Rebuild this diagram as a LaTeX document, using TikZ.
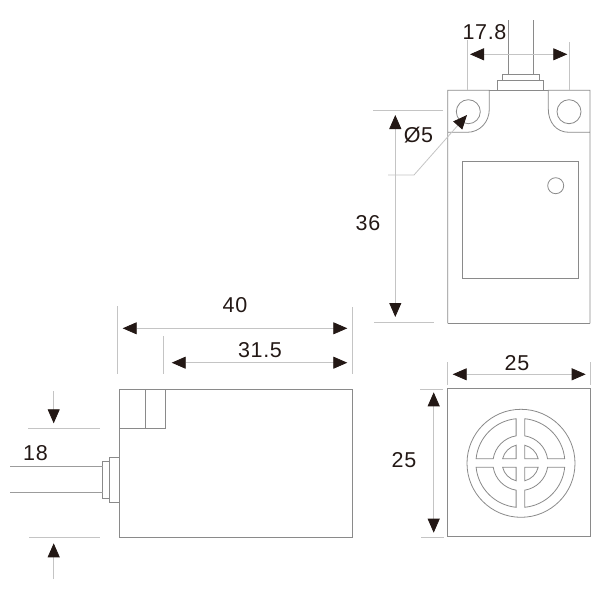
\documentclass[tikz,border=0pt]{standalone}
\usepackage{fontspec}
\setmainfont{Liberation Sans}
\usetikzlibrary{arrows.meta}
\definecolor{tipc}{HTML}{231815}
\definecolor{outl}{HTML}{8A8A8A}
\definecolor{dimc}{HTML}{C4C4C4}
\tikzset{
  part/.style={draw=outl,line width=0.8pt,line join=miter},
  cablepart/.style={draw=outl!85,line width=1pt},
  extline/.style={draw=dimc,line width=0.7pt},
  dimline/.style={draw=dimc,line width=0.8pt,
    {Triangle[length=14pt,width=12pt,color=tipc]}-{Triangle[length=14pt,width=12pt,color=tipc]}},
  onetip/.style={draw=dimc,line width=0.8pt,
    -{Triangle[length=14pt,width=12pt,color=tipc]}},
  lbl/.style={text=tipc,inner sep=0pt,font=\fontsize{21.5}{22}\selectfont\addfontfeature{LetterSpace=3}}
}
\begin{document}
\begin{tikzpicture}[x=1pt,y=-1pt]
\useasboundingbox (0,0) rectangle (600,600);
% ---- top view
\draw[part] (447.7,323.3) -- (447.7,90.3) -- (489.3,90.3) -- (489.3,109)
  .. controls (489.3,122) and (480,132.3) .. (467,132.3) -- (447.7,132.3);
\draw[part] (590,132.3) -- (569,132.3) .. controls (556,132.3) and (548.3,122) .. (548.3,109)
  -- (548.3,90.3) -- (590,90.3) -- (590,323.3) -- cycle;
\draw[part] (447.7,323.3) -- (590,323.3);
\draw[part] (489.3,90.3) -- (548.3,90.3);
\draw[part] (468.3,111.7) circle (12);
\draw[part] (569,111.7) circle (12);
\draw[part] (497.3,80.7) rectangle (543.7,90.3);
\draw[part] (502.3,74.3) rectangle (539.3,80.7);
\draw[part] (508.3,20) -- (508.3,74.3);
\draw[part] (533,20) -- (533,74.3);
\draw[part] (462.7,161.7) rectangle (578.3,278);
\draw[part] (555.7,185.7) circle (8);
\coordinate (a1) at (467,40); \coordinate (a2) at (467,90);
\coordinate (a3) at (569.7,42); \coordinate (a4) at (569.7,90);
\draw[extline] (a1) -- (a2);
\draw[extline] (a3) -- (a4);
\coordinate (b1) at (470,54.3); \coordinate (b2) at (567.3,54.3);
\draw[dimline] (b1) -- (b2);
\node[lbl] (t178) at (484.5,32) {17.8};
\coordinate (c1) at (373,110); \coordinate (c2) at (443,110);
\coordinate (c3) at (374,322.7); \coordinate (c4) at (434,322.7);
\draw[extline] (c1) -- (c2);
\draw[extline] (c3) -- (c4);
\coordinate (d1) at (395.3,115); \coordinate (d2) at (395.3,317);
\draw[dimline] (d1) -- (d2);
\node[lbl] (t36) at (368,223) {36};
\node[lbl] (t5) at (418.5,135) {Ø5};
\coordinate (e1) at (388,175); \coordinate (e2) at (414,175); \coordinate (e3) at (467,115);
\draw[onetip] (e1) -- (e2) -- (e3);
% ---- front view
\draw[part] (447.4,388.8) rectangle (590,536.8);
\draw[part] (521,463.3) circle (54);
\foreach \sx/\sy in {1/1,-1/1,1/-1,-1/-1}{
\begin{scope}[shift={(520.4,463)},xscale=\sx,yscale=\sy]
  \draw[part] (5.5:44.5) arc[start angle=5.5,end angle=84.5,radius=44.5]
     -- (81:27.5) arc[start angle=81,end angle=9,radius=27.5] -- cycle;
  \draw[part] (13.6:18.3) arc[start angle=13.6,end angle=76.4,radius=18.3]
     -- (4.3,4.3) -- cycle;
\end{scope}}
\coordinate (f1) at (447.5,362); \coordinate (f2) at (447.5,385);
\coordinate (f3) at (590,362); \coordinate (f4) at (590,385);
\draw[extline] (f1) -- (f2);
\draw[extline] (f3) -- (f4);
\coordinate (g1) at (452.7,374.3); \coordinate (g2) at (585.7,374.3);
\draw[dimline] (g1) -- (g2);
\node[lbl] (t25a) at (517,363) {25};
\coordinate (h1) at (420,389); \coordinate (h2) at (443,389);
\coordinate (h3) at (421,537); \coordinate (h4) at (444,537);
\draw[extline] (h1) -- (h2);
\draw[extline] (h3) -- (h4);
\coordinate (i1) at (433.7,392.3); \coordinate (i2) at (433.7,532.7);
\draw[dimline] (i1) -- (i2);
\node[lbl] (t25b) at (404,460) {25};
% ---- side view
\draw[part] (119.3,389.3) rectangle (352.3,537.3);
\draw[part] (119.3,389.3) rectangle (165.7,428.3);
\draw[part] (145.7,389.3) -- (145.7,428.3);
\draw[part] (109.3,457) rectangle (119.3,502.7);
\draw[part] (102.7,461) rectangle (109.3,498.7);
\draw[cablepart] (10,466.7) -- (102.7,466.7);
\draw[cablepart] (10,492.7) -- (102.7,492.7);
\node[lbl] (t18) at (35.5,453) {18};
\coordinate (j1) at (28,428.3); \coordinate (j2) at (100,428.3);
\coordinate (j3) at (29,537.3); \coordinate (j4) at (100,537.3);
\draw[extline] (j1) -- (j2);
\draw[extline] (j3) -- (j4);
\coordinate (k1) at (53.7,391); \coordinate (k2) at (53.7,423.3);
\coordinate (k3) at (53.7,579); \coordinate (k4) at (53.7,543.3);
\draw[onetip] (k1) -- (k2);
\draw[onetip] (k3) -- (k4);
\coordinate (l1) at (117.3,306); \coordinate (l2) at (117.3,374);
\coordinate (l3) at (352,307); \coordinate (l4) at (352,374);
\coordinate (l5) at (163.3,336); \coordinate (l6) at (163.3,374);
\draw[extline] (l1) -- (l2);
\draw[extline] (l3) -- (l4);
\draw[extline] (l5) -- (l6);
\coordinate (m1) at (122.7,328.3); \coordinate (m2) at (347.3,328.3);
\draw[dimline] (m1) -- (m2);
\node[lbl] (t40) at (235,305.5) {40};
\coordinate (n1) at (171.7,362.7); \coordinate (n2) at (347.3,362.7);
\draw[dimline] (n1) -- (n2);
\node[lbl] (t315) at (260,350) {31.5};
\end{tikzpicture}
\end{document}
